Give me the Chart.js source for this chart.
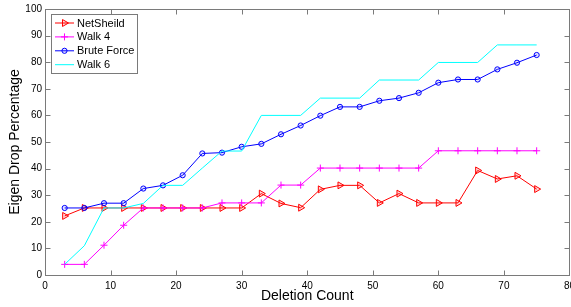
<!DOCTYPE html>
<html>
<head>
<meta charset="utf-8">
<script src="https://cdn.jsdelivr.net/npm/chart.js@4/dist/chart.umd.min.js"></script>
<style>
  html, body { margin: 0; padding: 0; background: #fff; overflow: hidden; }
  #wrap { width: 580px; height: 307px; }
</style>
</head>
<body>
<div id="wrap"><canvas id="eigenChart" width="580" height="307"></canvas></div>
<script>
// values
const deletionCount = [3, 6, 9, 12, 15, 18, 21, 24, 27, 30, 33, 36, 39, 42, 45, 48, 51, 54, 57, 60, 63, 66, 69, 72, 75];
const netSheild  = [22.2, 25.2, 25.2, 25.2, 25.2, 25.2, 25.2, 25.2, 25.2, 25.2, 30.6, 26.9, 25.3, 32.2, 33.7, 33.7, 27.1, 30.6, 27.1, 27.1, 27.1, 39.3, 36.1, 37.3, 32.3];
const walk4      = [4.0, 4.0, 11.2, 18.7, 25.2, 25.2, 25.2, 25.2, 27.1, 27.1, 27.1, 33.8, 33.8, 40.2, 40.2, 40.2, 40.2, 40.2, 40.2, 46.7, 46.7, 46.7, 46.7, 46.7, 46.7];
const bruteForce = [25.2, 25.2, 27.0, 27.0, 32.5, 33.7, 37.5, 45.7, 46.0, 48.2, 49.3, 52.9, 56.2, 59.9, 63.2, 63.2, 65.5, 66.5, 68.5, 72.3, 73.5, 73.5, 77.3, 79.8, 82.7];
const walk6      = [4.0, 11.0, 25.2, 25.2, 26.9, 33.7, 33.7, 40.2, 46.6, 46.6, 60.0, 60.0, 60.0, 66.5, 66.5, 66.5, 73.3, 73.3, 73.3, 79.9, 79.9, 79.9, 86.5, 86.5, 86.5];

const FONT = "'Liberation Sans', Arial, sans-serif";
const toPoints = arr => deletionCount.map((x, i) => ({ x: x, y: arr[i] }));

// matlab style box with inward ticks
const boxPlugin = {
  id: 'boxPlugin',
  afterDatasetsDraw(chart) {
    const { ctx, chartArea: a, scales } = chart;
    const L = Math.round(a.left) + 0.5, R = Math.round(a.right) + 0.5;
    const T = Math.round(a.top) + 0.5, B = Math.round(a.bottom) + 0.5;
    ctx.save();
    ctx.strokeStyle = '#7a7a7a';
    ctx.lineWidth = 1;
    ctx.strokeRect(L, T, R - L, B - T);
    ctx.beginPath();
    scales.x.ticks.forEach(t => {
      const px = Math.round(scales.x.getPixelForValue(t.value)) + 0.5;
      ctx.moveTo(px, B); ctx.lineTo(px, B - 5);
      ctx.moveTo(px, T); ctx.lineTo(px, T + 5);
    });
    scales.y.ticks.forEach(t => {
      const py = Math.round(scales.y.getPixelForValue(t.value)) + 0.5;
      ctx.moveTo(L, py); ctx.lineTo(L + 5, py);
      ctx.moveTo(R, py); ctx.lineTo(R - 5, py);
    });
    ctx.stroke();
    ctx.restore();
  }
};

// legend box inside the plot, top left
const legendPlugin = {
  id: 'legendPlugin',
  afterDraw(chart) {
    const ctx = chart.ctx;
    const x0 = 51, y0 = 14, w = 86, h = 59;
    ctx.save();
    ctx.fillStyle = '#fff';
    ctx.fillRect(x0, y0, w, h);
    ctx.strokeStyle = '#7a7a7a';
    ctx.lineWidth = 1;
    ctx.strokeRect(x0 + 0.5, y0 + 0.5, w, h);
    chart.data.datasets.forEach((ds, i) => {
      const y = 23 + i * 13.9;
      ctx.strokeStyle = ds.borderColor;
      ctx.lineWidth = ds.borderWidth;
      ctx.beginPath();
      ctx.moveTo(55, y); ctx.lineTo(74, y);
      ctx.stroke();
      if (ds.pointRadius > 0) {
        ctx.fillStyle = ds.backgroundColor;
        Chart.helpers.drawPoint(ctx, {
          pointStyle: ds.pointStyle,
          rotation: ds.pointRotation || 0,
          radius: ds.pointRadius,
          borderWidth: ds.pointBorderWidth
        }, 64.5, y);
      }
      ctx.fillStyle = '#000';
      ctx.font = '11px ' + FONT;
      ctx.textBaseline = 'middle';
      ctx.fillText(ds.label, 77, y + 0.5);
    });
    ctx.restore();
  }
};

new Chart(document.getElementById('eigenChart'), {
  type: 'line',
  data: {
    datasets: [
      {
        label: 'NetSheild', data: toPoints(netSheild),
        borderColor: '#ff0000', backgroundColor: 'rgba(255,0,0,0.15)',
        borderWidth: 1, pointStyle: 'triangle', pointRotation: 90,
        pointRadius: 4, pointBorderWidth: 1, order: 3
      },
      {
        label: 'Walk 4', data: toPoints(walk4),
        borderColor: '#ff00ff', backgroundColor: '#ff00ff',
        borderWidth: 1, pointStyle: 'cross', pointRadius: 3.5,
        pointBorderWidth: 1, order: 2
      },
      {
        label: 'Brute Force', data: toPoints(bruteForce),
        borderColor: '#0000ff', backgroundColor: 'rgba(0,0,255,0.1)',
        borderWidth: 1, pointStyle: 'circle', pointRadius: 2.6,
        pointBorderWidth: 1, order: 1
      },
      {
        label: 'Walk 6', data: toPoints(walk6),
        borderColor: '#00ffff', backgroundColor: '#00ffff',
        borderWidth: 1, pointRadius: 0, order: 0
      }
    ]
  },
  options: {
    responsive: false,
    animation: false,
    layout: { padding: { left: 0, top: 8, right: 8, bottom: 0 } },
    plugins: { legend: { display: false }, tooltip: { enabled: false } },
    elements: { line: { tension: 0 } },
    scales: {
      x: {
        type: 'linear', min: 0, max: 80,
        grid: { display: false, drawTicks: false },
        border: { display: false },
        ticks: { stepSize: 10, color: '#000', padding: 5, font: { family: FONT, size: 10 } },
        title: { display: true, text: 'Deletion Count', color: '#000', font: { family: FONT, size: 14 }, padding: { top: 0, bottom: 2 } },
        afterFit: s => { s.height = 32; }
      },
      y: {
        type: 'linear', min: 0, max: 100,
        grid: { display: false, drawTicks: false },
        border: { display: false },
        ticks: { stepSize: 10, color: '#000', padding: 3, font: { family: FONT, size: 10 } },
        title: { display: true, text: 'Eigen Drop Percentage', color: '#000', font: { family: FONT, size: 14 }, padding: { top: 7, bottom: 0 } },
        afterFit: s => { s.width = 45; }
      }
    }
  },
  plugins: [boxPlugin, legendPlugin]
});
</script>
</body>
</html>
